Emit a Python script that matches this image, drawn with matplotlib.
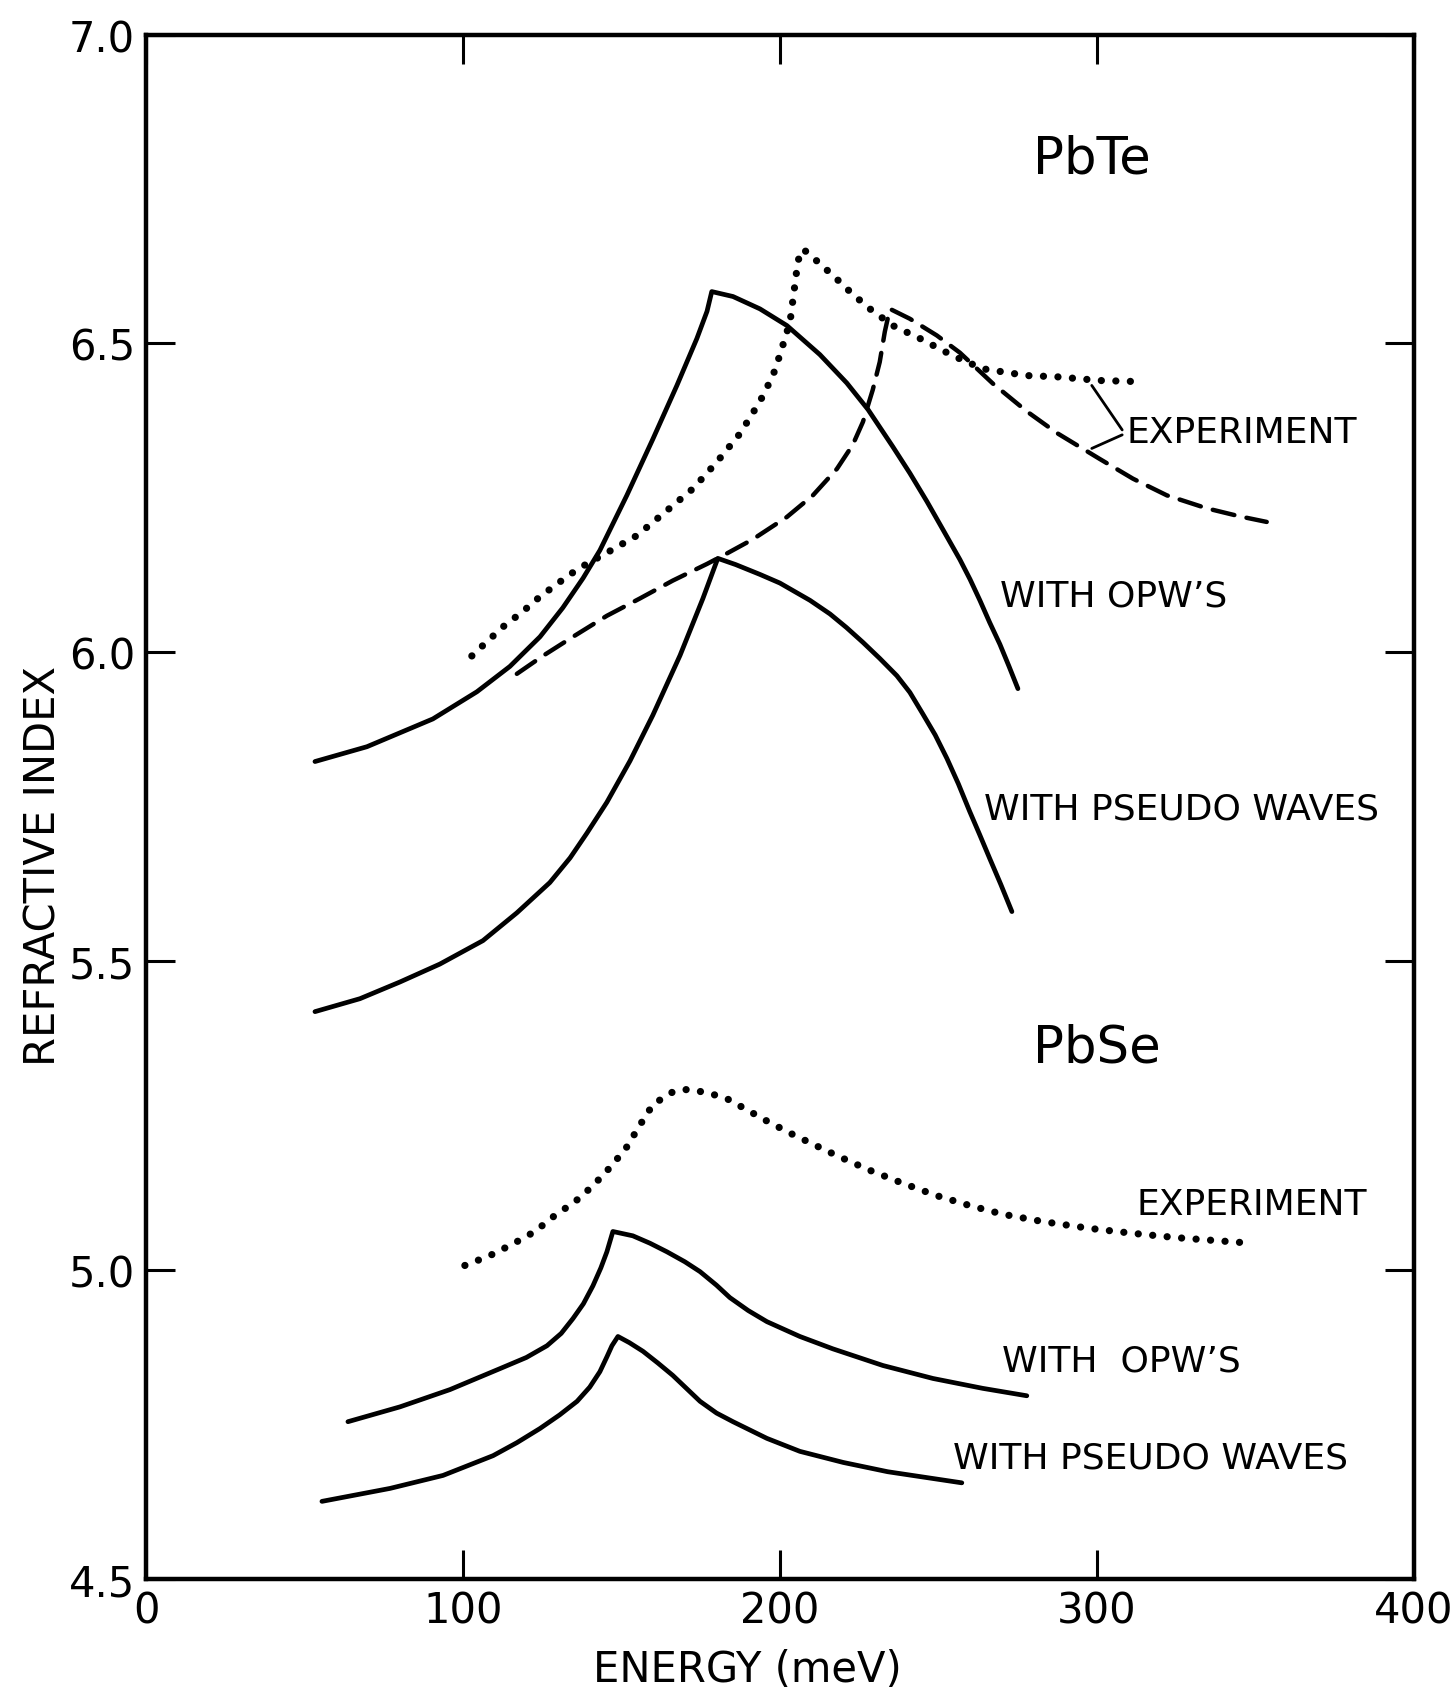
import matplotlib.pyplot as plt

plt.rcParams['font.family'] = ['DejaVu Sans']

# PbTe, with OPW's (solid, upper)
pbte_opw_e = [53.3, 69.7, 90.5, 104.4, 114.8, 124.3, 131.5, 137.9, 143.2, 151.7, 159.9, 167.5, 173.8, 177.0,
              178.5, 185.2, 193.7, 202.2, 212.6, 221.1, 227.8, 235.6, 241.0, 246.4, 251.5, 256.8, 260.0, 263.1,
              266.2, 269.4, 272.3, 275.1]
pbte_opw_n = [5.823, 5.847, 5.892, 5.936, 5.977, 6.025, 6.072, 6.120, 6.165, 6.254, 6.345, 6.432, 6.508, 6.552,
              6.584, 6.576, 6.556, 6.529, 6.482, 6.436, 6.393, 6.333, 6.290, 6.244, 6.198, 6.150, 6.118, 6.084,
              6.048, 6.013, 5.977, 5.941]

# PbTe, with pseudo waves (solid, lower)
pbte_ps_e = [53.3, 67.5, 80.1, 92.7, 106.3, 117.0, 127.4, 133.8, 139.1, 145.4, 152.7, 159.9, 168.5, 175.7,
             180.4, 186.0, 193.7, 200.0, 209.5, 215.8, 221.0, 226.2, 231.5, 236.9, 241.0, 245.1, 249.0, 252.7,
             256.3, 259.9, 263.0, 266.2, 269.7, 273.2]
pbte_ps_n = [5.418, 5.439, 5.466, 5.495, 5.533, 5.578, 5.627, 5.667, 5.707, 5.757, 5.824, 5.898, 5.995, 6.087,
             6.152, 6.142, 6.126, 6.112, 6.084, 6.062, 6.040, 6.016, 5.990, 5.962, 5.935, 5.900, 5.866, 5.828,
             5.787, 5.742, 5.705, 5.666, 5.624, 5.580]

# PbTe, experiment (dotted)
pbte_exp1_e = [102.8, 106.3, 112.6, 118.9, 124.3, 130.6, 136.3, 146.4, 154.9, 163.1, 172.6, 180.1, 187.4, 193.7,
               197.8, 199.9, 203.2, 204.7, 205.7, 207.3, 212.0, 217.4, 222.7, 228.4, 235.6, 244.2, 254.6, 264.0,
               277.9, 287.4, 300.9, 314.5]
pbte_exp1_n = [5.994, 6.011, 6.041, 6.066, 6.090, 6.114, 6.135, 6.164, 6.189, 6.224, 6.265, 6.308, 6.354, 6.406,
               6.448, 6.480, 6.535, 6.594, 6.634, 6.653, 6.632, 6.607, 6.581, 6.556, 6.529, 6.508, 6.480, 6.459,
               6.448, 6.446, 6.440, 6.438]

# PbTe, experiment (dashed)
pbte_exp2_e = [117.0, 125.2, 134.7, 145.4, 155.8, 166.2, 177.0, 183.3, 191.5, 202.2, 210.4, 218.0, 223.0, 226.2,
               229.3, 231.5, 233.1, 234.7, 241.0, 249.5, 256.8, 267.2, 277.9, 287.4, 300.9, 311.4, 322.1, 334.7,
               345.1, 353.6]
pbte_exp2_n = [5.965, 5.994, 6.025, 6.059, 6.087, 6.116, 6.143, 6.160, 6.183, 6.219, 6.254, 6.297, 6.336, 6.373,
               6.425, 6.470, 6.519, 6.556, 6.540, 6.513, 6.485, 6.435, 6.390, 6.355, 6.313, 6.281, 6.254, 6.233,
               6.220, 6.211]

# PbSe, experiment (dotted)
pbse_exp_e = [100.6, 108.5, 115.8, 122.7, 129.0, 135.3, 141.0, 147.0, 151.7, 155.8, 160.0, 166.2, 170.7, 177.0,
              183.3, 189.6, 196.2, 204.1, 217.9, 228.4, 238.8, 249.5, 259.9, 270.3, 283.0, 297.8, 311.4, 325.2, 346.1]
pbse_exp_n = [5.007, 5.023, 5.042, 5.062, 5.088, 5.110, 5.136, 5.169, 5.199, 5.234, 5.268, 5.288, 5.292, 5.287,
              5.277, 5.259, 5.240, 5.219, 5.185, 5.161, 5.140, 5.120, 5.104, 5.090, 5.078, 5.067, 5.059, 5.052, 5.044]

# PbSe, with OPW's
pbse_opw_e = [63.7, 80.1, 95.9, 111.7, 120.0, 126.5, 131.0, 134.7, 138.0, 141.0, 143.5, 145.4, 147.3, 153.6,
              159.0, 164.4, 170.0, 174.8, 180.0, 184.2, 190.0, 195.9, 206.3, 216.7, 232.5, 248.3, 264.0, 277.9]
pbse_opw_n = [4.754, 4.778, 4.806, 4.840, 4.858, 4.877, 4.897, 4.921, 4.945, 4.974, 5.003, 5.029, 5.062, 5.055,
              5.043, 5.029, 5.013, 4.997, 4.975, 4.955, 4.934, 4.916, 4.892, 4.872, 4.845, 4.824, 4.808, 4.796]

# PbSe, with pseudo waves
pbse_ps_e = [55.5, 77.0, 93.7, 109.5, 117.0, 124.3, 130.5, 136.0, 140.0, 143.2, 145.5, 147.0, 148.9, 152.5,
             156.8, 161.5, 166.2, 170.5, 174.8, 180.0, 185.2, 195.9, 206.3, 220.0, 234.0, 257.4]
pbse_ps_n = [4.625, 4.646, 4.667, 4.699, 4.720, 4.743, 4.765, 4.787, 4.810, 4.835, 4.860, 4.877, 4.892, 4.882,
             4.868, 4.849, 4.829, 4.808, 4.787, 4.768, 4.754, 4.727, 4.706, 4.688, 4.673, 4.655]

x_ticks = [0, 100, 200, 300, 400]
y_ticks = [4.5, 5.0, 5.5, 6.0, 6.5, 7.0]

fig = plt.figure(figsize=(14.56, 16.99), dpi=100)
ax = fig.add_axes([0.1003, 0.0703, 0.8707, 0.9087])

solid = dict(color='black', lw=3.4, solid_capstyle='round', solid_joinstyle='round')
dots = dict(color='black', lw=5.2, linestyle=(0, (0.01, 2.0)), dash_capstyle='round')
dash = dict(color='black', lw=3.2, linestyle=(0, (5.0, 2.8)), dash_capstyle='round')

ax.plot(pbte_opw_e, pbte_opw_n, **solid)
ax.plot(pbte_ps_e, pbte_ps_n, **solid)
ax.plot(pbte_exp1_e, pbte_exp1_n, **dots)
ax.plot(pbte_exp2_e, pbte_exp2_n, **dash)
ax.plot(pbse_exp_e, pbse_exp_n, **dots)
ax.plot(pbse_opw_e, pbse_opw_n, **solid)
ax.plot(pbse_ps_e, pbse_ps_n, **solid)

ax.set_xlim(0, 400)
ax.set_ylim(4.5, 7.0)
ax.set_xticks(x_ticks)
ax.set_xticklabels([str(t) for t in x_ticks])
ax.set_yticks(y_ticks)
ax.set_yticklabels([f'{t:.1f}' for t in y_ticks])
ax.tick_params(direction='in', top=True, right=True, length=21, width=2.2, labelsize=30, pad=8)
for s in ax.spines.values():
    s.set_linewidth(3.2)

ax.set_xlabel('ENERGY (meV)', fontsize=30)
ax.xaxis.set_label_coords(0.474, -0.045)
ax.set_ylabel('REFRACTIVE INDEX', fontsize=30)
ax.yaxis.set_label_coords(-0.064, 0.462)

# curve labels
lab = dict(fontsize=26, ha='left', va='center')
ax.text(298.5, 6.80, 'PbTe', fontsize=37, ha='center', va='center')
ax.text(300, 5.36, 'PbSe', fontsize=37, ha='center', va='center')
ax.text(309.5, 6.357, 'EXPERIMENT', **lab)
ax.annotate('', xy=(298.4, 6.432), xytext=(308.0, 6.360),
            arrowprops=dict(arrowstyle='-', color='black', lw=2.0, shrinkA=0, shrinkB=0))
ax.annotate('', xy=(298.4, 6.330), xytext=(308.0, 6.352),
            arrowprops=dict(arrowstyle='-', color='black', lw=2.0, shrinkA=0, shrinkB=0))
ax.text(269.4, 6.092, 'WITH OPW’S', **lab)
ax.text(264.4, 5.747, 'WITH PSEUDO WAVES', **lab)
ax.text(312.6, 5.107, 'EXPERIMENT', **lab)
ax.text(270.0, 4.853, 'WITH  OPW’S', **lab)
ax.text(254.6, 4.696, 'WITH PSEUDO WAVES', **lab)

plt.savefig('out.png', dpi=100)
